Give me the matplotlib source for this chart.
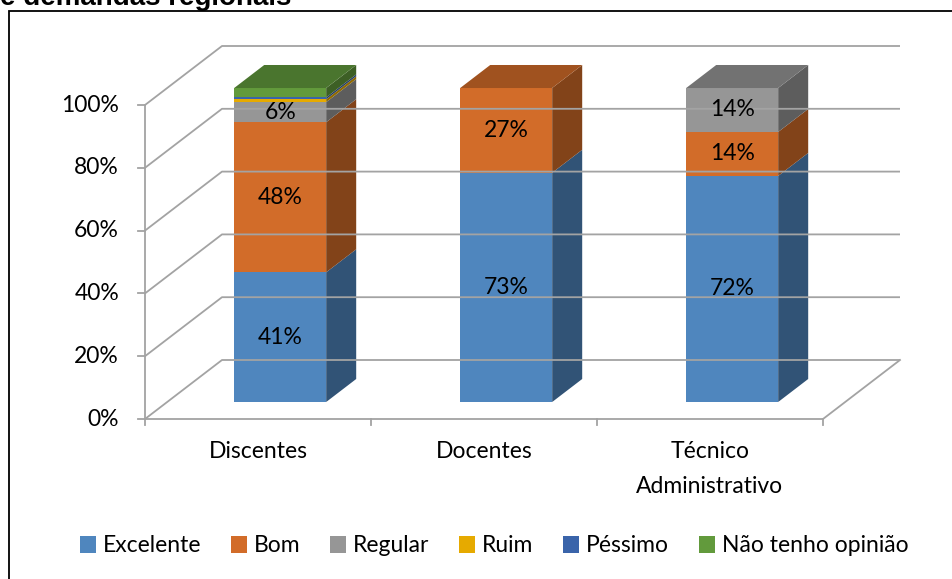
import matplotlib
matplotlib.use("Agg")
import matplotlib.pyplot as plt
from matplotlib.patches import Polygon, Patch, Rectangle

plt.rcParams['font.family'] = ['Lato', 'DejaVu Sans']

categories = ['Discentes', 'Docentes', 'Técnico\nAdministrativo']
series = ['Excelente', 'Bom', 'Regular', 'Ruim', 'Péssimo', 'Não tenho opinião']
excelente = [41.3, 73.0, 72.0]
bom = [47.8, 27.0, 14.0]
regular = [6.4, 0.0, 14.0]
ruim = [0.9, 0.0, 0.0]
pessimo = [0.6, 0.0, 0.0]
nao_opiniao = [3.0, 0.0, 0.0]
values = [excelente, bom, regular, ruim, pessimo, nao_opiniao]
show_label = [True, True, True, False, False, False]
yticks = [0, 20, 40, 60, 80, 100]

colors = ['#4F86BE', '#D26C29', '#969696', '#E6AA00', '#3A64AA', '#629A3C']

# layout (pixel geometry of the oblique box)
W, H = 953, 579
px_cat = 226.0
px_pct = 3.14
x0_px, y0_px = 145, 419
DX = 77 / px_cat
DY = 59 / px_pct
d_front, d_back = 0.288, 0.678
bar_w = 0.407
grid_c = '#A3A3A3'
fs = 16.5


def proj(x, y, d):
    return (x + d * DX, y + d * DY)


def shade(c, f):
    r, g, b = matplotlib.colors.to_rgb(c)
    return (r * f, g * f, b * f)


fig = plt.figure(figsize=(W / 100, H / 100), dpi=100)
ax = fig.add_axes([0, 0, 1, 1])
ax.set_xlim(-0.5 - x0_px / px_cat, -0.5 + (W - x0_px) / px_cat)
ax.set_ylim(-(H - y0_px) / px_pct, y0_px / px_pct)
ax.axis('off')

# chart frame
fig.patches.append(Rectangle((9 / W, -0.1), 1.2, 1 - 11 / H + 0.1, transform=fig.transFigure,
                             fill=False, ec='black', lw=1.3))
fig.text(0.0, 1 - 5 / H, 'e demandas regionais', fontsize=20, fontweight='bold',
         family='Liberation Sans', va='baseline', ha='left')

xl, xr = -0.5, len(categories) - 0.5
# walls and floor
for t in yticks:
    ax.plot(*zip(proj(xl, t, 0), proj(xl, t, 1), proj(xr, t, 1)), color=grid_c, lw=1.3,
            solid_capstyle='butt')
    ax.plot([xl - 7 / px_cat, xl], [t, t], color=grid_c, lw=1.3)
    ax.text(xl - 26 / px_cat, t, f'{t}%', ha='right', va='center', fontsize=fs)
ax.plot(*zip(proj(xl, 0, 0), proj(xr, 0, 0), proj(xr, 0, 1)), color=grid_c, lw=1.3)
ax.plot([xl, xl], [0, 100], color=grid_c, lw=1.3)
for i in range(len(categories) + 1):
    ax.plot([xl + i, xl + i], [0, -6 / px_pct], color=grid_c, lw=1.3)

# bars
for i, cat in enumerate(categories):
    bottom = 0.0
    left = i - bar_w / 2
    right = i + bar_w / 2
    top_idx = max(k for k in range(len(series)) if values[k][i] > 0)
    for k, s in enumerate(series):
        v = values[k][i]
        if v <= 0:
            continue
        b, t = bottom, bottom + v
        front = [proj(left, b, d_front), proj(right, b, d_front),
                 proj(right, t, d_front), proj(left, t, d_front)]
        side = [proj(right, b, d_front), proj(right, b, d_back),
                proj(right, t, d_back), proj(right, t, d_front)]
        ax.add_patch(Polygon(side, closed=True, fc=shade(colors[k], 0.62), ec='none'))
        ax.add_patch(Polygon(front, closed=True, fc=colors[k], ec='none'))
        if k == top_idx:
            topf = [proj(left, t, d_front), proj(right, t, d_front),
                    proj(right, t, d_back), proj(left, t, d_back)]
            ax.add_patch(Polygon(topf, closed=True, fc=shade(colors[k], 0.76), ec='none'))
        if show_label[k]:
            cx, cy = proj(i, (b + t) / 2, d_front)
            ax.text(cx, cy, f'{v:.0f}%', ha='center', va='center', fontsize=fs)
        bottom = t
    ax.text(i, -22 / px_pct, cat, ha='center', va='top', fontsize=fs, linespacing=1.8)

handles = [Patch(fc=c, ec='none') for c in colors]
fig.legend(handles, series, loc='center', bbox_to_anchor=(494 / W, 1 - 546 / H), ncol=6,
           frameon=False, fontsize=fs, handlelength=0.7, handleheight=0.7,
           handletextpad=0.3, columnspacing=1.3)

fig.savefig('out.png', dpi=100)
